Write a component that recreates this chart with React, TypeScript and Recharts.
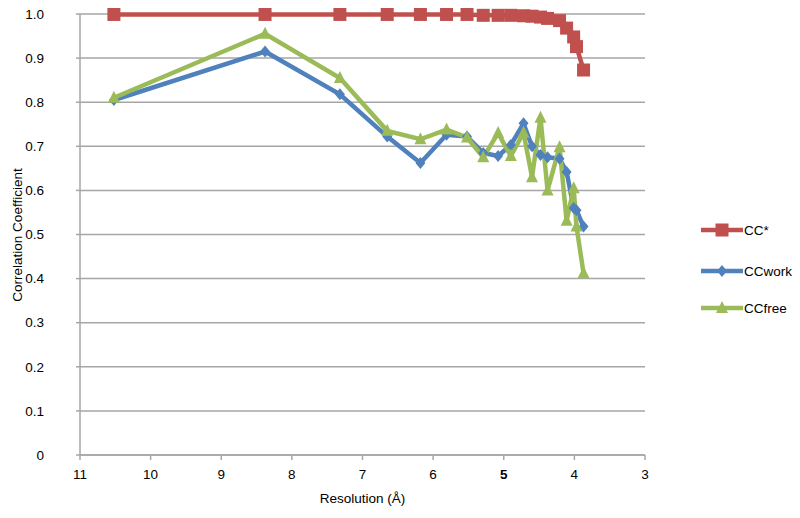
import React from 'react';
import { LineChart, Line, XAxis, YAxis, CartesianGrid, Legend } from 'recharts';

// Resolution shells (Å)
const resolution = [10.52, 8.38, 7.32, 6.65, 6.18, 5.81, 5.52, 5.29, 5.08, 4.9, 4.72, 4.6, 4.48, 4.38, 4.21, 4.11, 4.01, 3.97, 3.87];
const ccStar = [0.999, 0.999, 0.999, 0.999, 0.999, 0.999, 0.999, 0.997, 0.997, 0.997, 0.996, 0.995, 0.993, 0.99, 0.985, 0.968, 0.948, 0.926, 0.873];
const ccWork = [0.805, 0.915, 0.818, 0.722, 0.662, 0.726, 0.722, 0.685, 0.678, 0.703, 0.752, 0.7, 0.68, 0.675, 0.672, 0.642, 0.56, 0.555, 0.518];
const ccFree = [0.81, 0.955, 0.855, 0.735, 0.716, 0.738, 0.72, 0.675, 0.73, 0.678, 0.731, 0.63, 0.765, 0.6, 0.698, 0.531, 0.605, 0.518, 0.412];

const xTicks = [11, 10, 9, 8, 7, 6, 5, 4, 3];
const yTicks = [0, 0.1, 0.2, 0.3, 0.4, 0.5, 0.6, 0.7, 0.8, 0.9, 1.0];
const seriesNames = ['CC*', 'CCwork', 'CCfree'];

const data = resolution.map((r, i) => ({ res: r, ccStar: ccStar[i], ccWork: ccWork[i], ccFree: ccFree[i] }));

const RED = '#C0504D';
const BLUE = '#4F81BD';
const GREEN = '#9BBB59';
const GRID = '#a6a6a6';
const FONT = '"Liberation Sans", Arial, Helvetica, sans-serif';
const FS = 13.5;

const SquareDot = (props: any) => {
  const { cx, cy } = props;
  if (cx == null || cy == null) return null;
  return <rect key={`s${props.index}`} x={cx - 6.5} y={cy - 6.5} width={13} height={13} fill={RED} />;
};
const DiamondDot = (props: any) => {
  const { cx, cy } = props;
  if (cx == null || cy == null) return null;
  return <polygon key={`d${props.index}`} points={`${cx},${cy - 6} ${cx + 5},${cy} ${cx},${cy + 6} ${cx - 5},${cy}`} fill={BLUE} />;
};
const TriangleDot = (props: any) => {
  const { cx, cy } = props;
  if (cx == null || cy == null) return null;
  return <polygon key={`t${props.index}`} points={`${cx},${cy - 7} ${cx + 6},${cy + 5} ${cx - 6},${cy + 5}`} fill={GREEN} />;
};

const XTick = (props: any) => {
  const { x, y, payload } = props;
  return (
    <text x={x} y={y} dy="0.71em" textAnchor="middle" fill="#000" fontSize={FS} fontFamily={FONT} fontWeight={payload.value === 5 ? 'bold' : 'normal'}>
      {payload.value}
    </text>
  );
};

const LegendContent = () => {
  const colors = [RED, BLUE, GREEN];
  const tops = [0, 41, 78];
  return (
    <div style={{ position: 'relative', width: 100, height: 100, fontFamily: FONT, fontSize: FS }}>
      {seriesNames.map((n, i) => (
        <div key={n} style={{ position: 'absolute', left: 0, top: tops[i], height: 16, display: 'flex', alignItems: 'center' }}>
          <svg width={42} height={16}>
            <line x1={0} y1={8} x2={42} y2={8} stroke={colors[i]} strokeWidth={4.5} strokeLinecap="round" />
            {i === 0 && <rect x={14.5} y={1.5} width={13} height={13} fill={RED} />}
            {i === 1 && <polygon points="21,2 26,8 21,14 16,8" fill={BLUE} />}
            {i === 2 && <polygon points="21,1 27,13 15,13" fill={GREEN} />}
          </svg>
          <span style={{ marginLeft: 1, color: '#000' }}>{n}</span>
        </div>
      ))}
    </div>
  );
};

export default function App() {
  return (
    <div style={{ position: 'relative', width: 792, height: 510 }}>
      <LineChart width={792} height={510} data={data} margin={{ top: 6, right: 55, bottom: 33, left: 12 }}>
        <CartesianGrid vertical={false} stroke={GRID} strokeWidth={1.5} />
        <XAxis
          dataKey="res"
          type="number"
          domain={[3, 11]}
          ticks={xTicks}
          reversed
          height={30}
          tickSize={5}
          tickMargin={9}
          stroke={GRID}
          strokeWidth={1.5}
          tick={<XTick />}
          interval={0}
          label={{ value: 'Resolution (Å)', position: 'bottom', offset: 8, fill: '#000', fontSize: FS, fontFamily: FONT }}
        />
        <YAxis
          type="number"
          domain={[0, 1]}
          ticks={yTicks}
          width={60}
          tickSize={4}
          tickMargin={32}
          stroke={GRID}
          strokeWidth={1.5}
          interval={0}
          tick={{ fill: '#000', fontSize: FS, fontFamily: FONT }}
          tickFormatter={(v: number) => (v === 0 ? '0' : v.toFixed(1))}
          label={{
            content: () => (
              <text x={9} y={227} transform="rotate(-90 9 227)" textAnchor="middle" dominantBaseline="central" fill="#000" fontSize={FS} fontFamily={FONT}>
                Correlation Coefficient
              </text>
            ),
          }}
        />
        <Legend
          layout="horizontal"
          verticalAlign="middle"
          align="right"
          content={<LegendContent />}
          wrapperStyle={{ left: 693, top: 214, width: 100, height: 100 }}
        />
        <Line dataKey="ccStar" name="CC*" stroke={RED} strokeWidth={4.5} dot={<SquareDot />} activeDot={false} isAnimationActive={false} />
        <Line dataKey="ccWork" name="CCwork" stroke={BLUE} strokeWidth={4.5} dot={<DiamondDot />} activeDot={false} isAnimationActive={false} />
        <Line dataKey="ccFree" name="CCfree" stroke={GREEN} strokeWidth={4.5} dot={<TriangleDot />} activeDot={false} isAnimationActive={false} />
      </LineChart>
    </div>
  );
}
